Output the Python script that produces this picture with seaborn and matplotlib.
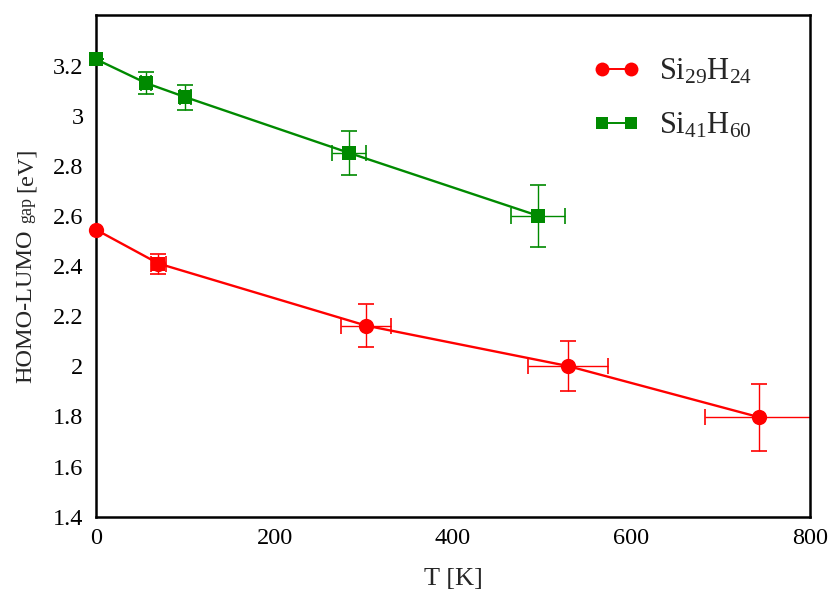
import numpy as np
import pandas as pd
import seaborn as sns
import matplotlib.pyplot as plt
from matplotlib.lines import Line2D
from matplotlib.ticker import MultipleLocator, FormatStrFormatter

# Si29H24 : temperature [K], gap [eV] and their error bars
t_si29 = [0, 70, 303, 529, 743]
gap_si29 = [2.545, 2.41, 2.162, 2.001, 1.797]
terr_si29 = [0, 8, 28, 45, 61]
gerr_si29 = [0, 0.04, 0.085, 0.10, 0.133]

# Si41H60
t_si41 = [0, 56, 100, 283, 495]
gap_si41 = [3.225, 3.13, 3.074, 2.852, 2.601]
terr_si41 = [0, 6, 6, 19, 30]
gerr_si41 = [0, 0.044, 0.05, 0.088, 0.124]

labels = ['Si$_{29}$H$_{24}$', 'Si$_{41}$H$_{60}$']

RED = '#ff0000'
GREEN = '#008a00'

sns.set_theme(style='white')
plt.rcParams['font.family'] = ['Liberation Serif', 'DejaVu Serif']
plt.rcParams['mathtext.fontset'] = 'custom'
plt.rcParams['mathtext.rm'] = 'Liberation Serif'
plt.rcParams['mathtext.it'] = 'Liberation Serif:italic'

df = pd.DataFrame({
    'T': t_si29 + t_si41,
    'gap': gap_si29 + gap_si41,
    'cluster': [labels[0]] * len(t_si29) + [labels[1]] * len(t_si41),
})

fig = plt.figure(figsize=(8.35, 5.91), dpi=100)
ax = fig.add_axes([0.115, 0.1257, 0.855, 0.8483])

# error bars below the lines
ax.errorbar(t_si29, gap_si29, xerr=terr_si29, yerr=gerr_si29, fmt='none',
            ecolor=RED, elinewidth=1.0, capsize=5.5, capthick=1.2, zorder=2)
ax.errorbar(t_si41, gap_si41, xerr=terr_si41, yerr=gerr_si41, fmt='none',
            ecolor=GREEN, elinewidth=1.0, capsize=5.5, capthick=1.2, zorder=2)

sns.lineplot(data=df, x='T', y='gap', hue='cluster', style='cluster',
             palette=[RED, GREEN], markers=['o', 's'], dashes=False,
             markersize=11, markeredgewidth=0, linewidth=1.7,
             legend=False, ax=ax, zorder=3, clip_on=False)
for ln in ax.lines:
    if ln.get_marker() == 's':
        ln.set_markersize(10)
# second Si29H24 point is drawn as a square in the original
ax.plot(t_si29[1], gap_si29[1], marker='s', ms=10.5, mew=0, color=RED, zorder=4)

ax.set_xlim(0, 800)
ax.set_ylim(1.4, 3.4)
ax.xaxis.set_major_locator(MultipleLocator(200))
ax.xaxis.set_minor_locator(MultipleLocator(100))
ax.yaxis.set_major_locator(MultipleLocator(0.2))
ax.yaxis.set_minor_locator(MultipleLocator(0.1))
ax.yaxis.set_major_formatter(FormatStrFormatter('%g'))
ax.set_yticks([1.4, 1.6, 1.8, 2.0, 2.2, 2.4, 2.6, 2.8, 3.0, 3.2])
ax.tick_params(which='both', direction='in', top=False, right=False,
               colors='black', width=1.6, labelsize=17.5)
ax.tick_params(which='major', length=11, pad=9)
ax.tick_params(which='minor', length=6)
ax.tick_params(axis='x', pad=8)
for sp in ax.spines.values():
    sp.set_color('black')
    sp.set_linewidth(1.8)

ax.set_xlabel('T [K]', fontsize=19, labelpad=14)
ax.set_ylabel('')

# y label with a smaller "gap" word, pieces laid end to end on one baseline
fig.canvas.draw()
rend = fig.canvas.get_renderer()
x_base = 31.5 / 835
y_cur = 1 - 383 / 591
for txt, size in [('HOMO-LUMO', 17.5), ('gap', 13), ('[eV]', 17.5)]:
    t = fig.text(x_base, y_cur, txt, rotation=90, fontsize=size,
                 ha='left', va='baseline', rotation_mode='anchor')
    bb = t.get_window_extent(rend)
    y_cur += (bb.height + 0.28 * size * 100 / 72) / fig.bbox.height

handles = [
    Line2D([], [], color=RED, marker='o', ms=10, mew=0, lw=1.4),
    Line2D([], [], color=GREEN, marker='s', ms=8.5, mew=0, lw=1.4),
]
ax.legend(handles, labels, loc='upper left', bbox_to_anchor=(0.696, 0.916),
          frameon=False, numpoints=2, fontsize=22, handlelength=1.55,
          handletextpad=0.62, labelspacing=0.79, borderpad=0, borderaxespad=0)

fig.savefig('out.png', dpi=100)
